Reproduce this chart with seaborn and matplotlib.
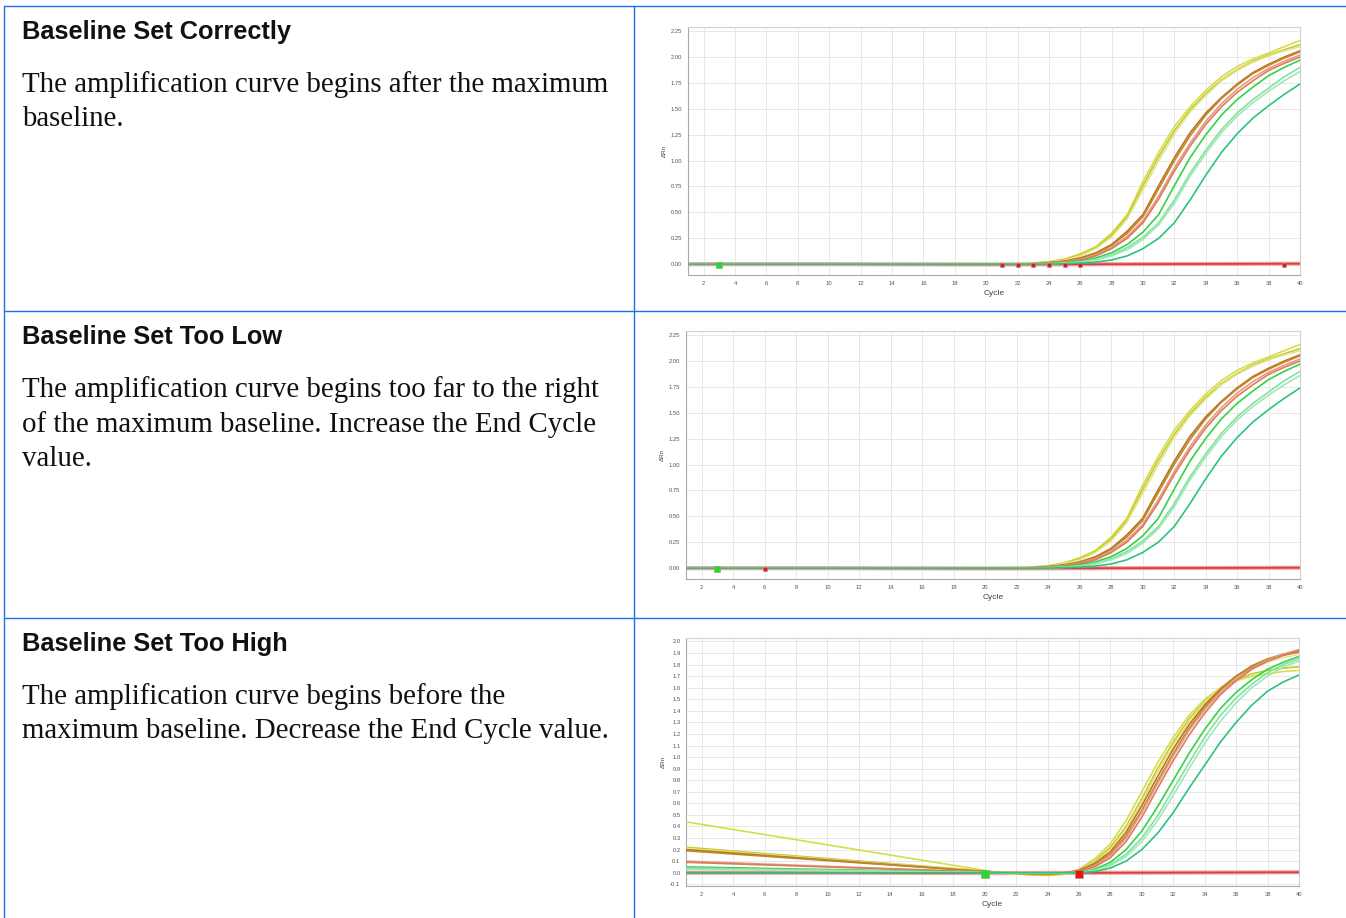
import numpy as np
import pandas as pd
import matplotlib
matplotlib.use("Agg")
import matplotlib.pyplot as plt
from matplotlib.lines import Line2D
import seaborn as sns

# ---- text of the table ----
titles = ["Baseline Set Correctly", "Baseline Set Too Low", "Baseline Set Too High"]
bodies = [
    ["The amplification curve begins after the maximum", "baseline."],
    ["The amplification curve begins too far to the right",
     "of the maximum baseline. Increase the End Cycle", "value."],
    ["The amplification curve begins before the",
     "maximum baseline. Decrease the End Cycle value."],
]

# ---- amplification data (delta Rn per cycle) ----
wells = ["Y1", "Y2", "Y3", "O1", "O2", "S1", "S2", "G1", "G2", "G3", "T1"]
well_colors = ["#d3df45", "#c8c62c", "#e2e68a", "#c4701c", "#b98a2a", "#e69a82",
               "#dd7a5c", "#34d247", "#84e29c", "#9fe8b8", "#2fc27c"]
rise_cycles = list(range(20, 41))

# panels 1 and 2 (baseline flat at 0 until cycle 20)
good_start = [0.0] * len(wells)
good_rise = {
    "Y1": [0.00, 0.00, 0.005, 0.01, 0.025, 0.05, 0.10, 0.17, 0.30, 0.48, 0.80, 1.08, 1.33, 1.52, 1.68, 1.81, 1.91, 1.98, 2.04, 2.10, 2.16],
    "Y2": [0.00, 0.00, 0.004, 0.009, 0.02, 0.045, 0.09, 0.16, 0.28, 0.46, 0.76, 1.04, 1.29, 1.49, 1.65, 1.78, 1.88, 1.96, 2.02, 2.07, 2.12],
    "Y3": [0.00, 0.00, 0.003, 0.008, 0.02, 0.04, 0.08, 0.15, 0.26, 0.44, 0.72, 1.00, 1.26, 1.47, 1.63, 1.77, 1.87, 1.95, 2.01, 2.06, 2.10],
    "O1": [0.00, 0.00, 0.00, 0.005, 0.015, 0.03, 0.06, 0.11, 0.19, 0.32, 0.48, 0.76, 1.03, 1.27, 1.46, 1.61, 1.74, 1.85, 1.93, 2.00, 2.06],
    "O2": [0.00, 0.00, 0.00, 0.004, 0.012, 0.028, 0.055, 0.10, 0.18, 0.30, 0.46, 0.73, 1.00, 1.24, 1.44, 1.60, 1.73, 1.84, 1.92, 1.99, 2.05],
    "S1": [0.00, 0.00, 0.00, 0.003, 0.01, 0.022, 0.045, 0.09, 0.16, 0.27, 0.42, 0.66, 0.93, 1.17, 1.38, 1.55, 1.69, 1.80, 1.89, 1.96, 2.02],
    "S2": [0.00, 0.00, 0.00, 0.002, 0.008, 0.02, 0.04, 0.08, 0.15, 0.25, 0.40, 0.63, 0.90, 1.14, 1.35, 1.52, 1.66, 1.77, 1.87, 1.94, 2.00],
    "G1": [0.00, 0.00, 0.00, 0.00, 0.005, 0.015, 0.03, 0.06, 0.11, 0.19, 0.31, 0.48, 0.76, 1.03, 1.25, 1.44, 1.59, 1.71, 1.82, 1.90, 1.97],
    "G2": [0.00, 0.00, 0.00, 0.00, 0.003, 0.01, 0.02, 0.045, 0.09, 0.16, 0.26, 0.40, 0.62, 0.88, 1.10, 1.30, 1.46, 1.59, 1.70, 1.81, 1.90],
    "G3": [0.00, 0.00, 0.00, 0.00, 0.002, 0.008, 0.018, 0.04, 0.08, 0.14, 0.24, 0.38, 0.59, 0.85, 1.07, 1.27, 1.43, 1.56, 1.67, 1.77, 1.86],
    "T1": [0.00, 0.00, 0.00, 0.00, 0.00, 0.005, 0.01, 0.02, 0.04, 0.08, 0.15, 0.25, 0.40, 0.62, 0.86, 1.08, 1.26, 1.41, 1.53, 1.64, 1.74],
}

# panel 3 (baseline too high: sloped start, dip, then rise)
high_start = [0.44, 0.22, 0.21, 0.20, 0.19, 0.10, 0.09, 0.05, 0.04, 0.03, 0.0]
high_rise = {
    "Y1": [0.02, 0.0, -0.01, -0.02, -0.025, -0.015, 0.03, 0.12, 0.25, 0.45, 0.70, 0.95, 1.17, 1.36, 1.50, 1.60, 1.66, 1.70, 1.72, 1.74, 1.75],
    "Y2": [0.015, 0.0, -0.01, -0.015, -0.02, -0.01, 0.02, 0.10, 0.22, 0.40, 0.64, 0.90, 1.13, 1.33, 1.48, 1.59, 1.67, 1.72, 1.75, 1.77, 1.78],
    "Y3": [0.012, 0.0, -0.008, -0.012, -0.015, -0.008, 0.02, 0.09, 0.20, 0.38, 0.61, 0.87, 1.10, 1.31, 1.47, 1.60, 1.70, 1.77, 1.82, 1.86, 1.89],
    "O1": [0.01, 0.0, -0.005, -0.01, -0.012, -0.005, 0.02, 0.08, 0.18, 0.35, 0.58, 0.83, 1.07, 1.28, 1.45, 1.59, 1.70, 1.78, 1.84, 1.88, 1.91],
    "O2": [0.01, 0.0, -0.005, -0.01, -0.01, -0.005, 0.015, 0.07, 0.16, 0.32, 0.54, 0.79, 1.03, 1.25, 1.43, 1.58, 1.70, 1.79, 1.85, 1.89, 1.92],
    "S1": [0.005, 0.0, -0.003, -0.005, -0.005, -0.003, 0.01, 0.06, 0.15, 0.30, 0.52, 0.77, 1.01, 1.23, 1.41, 1.56, 1.68, 1.77, 1.84, 1.89, 1.93],
    "S2": [0.005, 0.0, -0.002, -0.004, -0.004, -0.002, 0.01, 0.05, 0.13, 0.27, 0.48, 0.73, 0.97, 1.19, 1.38, 1.54, 1.66, 1.76, 1.83, 1.88, 1.92],
    "G1": [0.002, 0.0, -0.002, -0.003, -0.003, -0.002, 0.0, 0.03, 0.09, 0.20, 0.36, 0.57, 0.80, 1.03, 1.24, 1.42, 1.56, 1.67, 1.76, 1.82, 1.87],
    "G2": [0.002, 0.0, -0.001, -0.002, -0.002, -0.001, 0.0, 0.02, 0.07, 0.16, 0.30, 0.49, 0.72, 0.95, 1.17, 1.36, 1.51, 1.63, 1.73, 1.80, 1.85],
    "G3": [0.001, 0.0, -0.001, -0.002, -0.002, -0.001, 0.0, 0.02, 0.06, 0.14, 0.27, 0.45, 0.67, 0.90, 1.12, 1.31, 1.47, 1.60, 1.70, 1.78, 1.83],
    "T1": [0.0, 0.0, 0.0, 0.0, 0.0, 0.0, 0.0, 0.01, 0.04, 0.10, 0.20, 0.34, 0.52, 0.73, 0.93, 1.13, 1.30, 1.45, 1.57, 1.65, 1.71],
}

# no-template / flat red trace
ntc_cycles = [1, 10, 20, 30, 40]
ntc_values = [0.0, 0.0, -0.003, 0.0, 0.004]

# baseline start / end markers (cycle positions)
start_markers = [[3], [3], [20]]
end_markers = [[21, 22, 23, 24, 25, 26, 39], [6], [26]]

y_ticks = [
    [0.0, 0.25, 0.5, 0.75, 1.0, 1.25, 1.5, 1.75, 2.0, 2.25],
    [0.0, 0.25, 0.5, 0.75, 1.0, 1.25, 1.5, 1.75, 2.0, 2.25],
    [-0.1, 0.0, 0.1, 0.2, 0.3, 0.4, 0.5, 0.6, 0.7, 0.8, 0.9, 1.0,
     1.1, 1.2, 1.3, 1.4, 1.5, 1.6, 1.7, 1.8, 1.9, 2.0],
]
y_fmt = ["{:.2f}", "{:.2f}", "{:.1f}"]
y_lims = [(-0.105, 2.29), (-0.105, 2.29), (-0.115, 2.03)]
x_ticks = list(range(2, 41, 2))


def build_frame(starts, rises):
    rows = []
    for w, s in zip(wells, starts):
        rows.append({"well": w, "cycle": 1, "drn": s})
        for c, v in zip(rise_cycles, rises[w]):
            rows.append({"well": w, "cycle": c, "drn": v})
    return pd.DataFrame(rows)


frames = [build_frame(good_start, good_rise),
          build_frame(good_start, good_rise),
          build_frame(high_start, high_rise)]
ntc = pd.DataFrame({"cycle": ntc_cycles, "drn": ntc_values})

sns.set_theme(style="white")
plt.rcParams["font.family"] = ["Liberation Sans", "DejaVu Sans"]

W, H = 1346, 918
fig = plt.figure(figsize=(W / 100, H / 100), dpi=100)

# table rules
blue = "#1f6fe8"
def hline(y, x0, x1):
    fig.add_artist(Line2D([x0 / W, x1 / W], [1 - y / H, 1 - y / H], color=blue, lw=1.0))
def vline(x, y0, y1):
    fig.add_artist(Line2D([x / W, x / W], [1 - y0 / H, 1 - y1 / H], color=blue, lw=1.0))

hline(6, 4, W)
hline(311, 4, W)
hline(618, 4, W)
vline(4, 6, H)
vline(634, 6, H)

# text column
row_top = [6, 311, 618]
for i in range(3):
    y0 = row_top[i]
    fig.text(22 / W, 1 - (y0 + 26) / H, titles[i], fontsize=18.3, fontweight="bold",
             family=["Liberation Sans", "DejaVu Sans"], va="center", ha="left", color="#111111")
    for j, line in enumerate(bodies[i]):
        fig.text(22 / W, 1 - (y0 + 79 + 34.5 * j) / H, line, fontsize=20.8,
                 family=["Liberation Serif", "DejaVu Serif"], va="center", ha="left", color="#111111")

# plots
ax_boxes = [(688, 27, 1300, 275), (686, 331, 1300, 579), (686, 638, 1299, 886)]
for i, (l, t, r, b) in enumerate(ax_boxes):
    ax = fig.add_axes([l / W, 1 - b / H, (r - l) / W, (b - t) / H])
    # flat red traces
    sns.lineplot(data=ntc, x="cycle", y="drn", ax=ax, color="#f2a4a4", lw=3.0, zorder=1)
    sns.lineplot(data=ntc, x="cycle", y="drn", ax=ax, color="#d94040", lw=1.3, zorder=2)
    sns.lineplot(data=frames[i], x="cycle", y="drn", hue="well", hue_order=wells,
                 palette=well_colors, legend=False, ax=ax, lw=1.2, zorder=3)
    # baseline markers
    ax.scatter(start_markers[i], [-0.01] * len(start_markers[i]), marker="s",
               s=14 if i < 2 else 26, color="#22dd22", edgecolor="#9a9a9a", lw=0.4, zorder=5)
    ax.scatter(end_markers[i], [-0.01] * len(end_markers[i]), marker="s",
               s=8 if i < 2 else 30, color="#ee1111", edgecolor="#9a9a9a", lw=0.4, zorder=5)

    ax.set_xlim(1, 40)
    ax.set_ylim(*y_lims[i])
    ax.set_xticks(x_ticks)
    ax.set_xticklabels([str(x) for x in x_ticks])
    ax.set_yticks(y_ticks[i])
    ax.set_yticklabels([y_fmt[i].format(v) for v in y_ticks[i]])
    ax.grid(True, color="#e8e8e8", lw=0.7)
    ax.set_axisbelow(True)
    ax.tick_params(axis="both", labelsize=4.2, length=2, width=0.5, colors="#555555", pad=2)
    for s in ax.spines.values():
        s.set_color("#d0d0d0")
        s.set_linewidth(0.8)
    ax.spines["bottom"].set_color("#a8a8a8")
    ax.spines["left"].set_color("#a8a8a8")
    ax.set_xlabel("Cycle", fontsize=6, color="#444444", labelpad=3)
    ax.set_ylabel("ΔRn", fontsize=4.5, color="#444444", labelpad=3)

fig.savefig("out.png", dpi=100)
